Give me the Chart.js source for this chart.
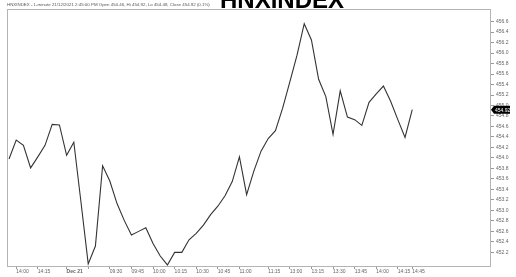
<!DOCTYPE html>
<html>
<head>
<meta charset="utf-8">
<script src="https://cdn.jsdelivr.net/npm/chart.js@4/dist/chart.umd.min.js"></script>
<style>
  html, body { margin: 0; padding: 0; background: #fff; }
  #wrap { width: 516px; height: 277px; }
</style>
</head>
<body>
<div id="wrap"><canvas id="hnxChart"></canvas></div>
<script>
const chartTitle = 'HNXINDEX';
const headerText = 'HNXINDEX - 1-minute 21/12/2021 2:45:00 PM Open 454.46, Hi 454.92, Lo 454.48, Close 454.92 (0.1%)';

// closing prices, one per bar
const prices = [
  453.98, 454.34, 454.24, 453.81, 454.02, 454.24, 454.64, 454.63, 454.05, 454.30,
  453.15, 451.98, 452.32, 453.85, 453.56, 453.13, 452.81, 452.53, 452.60, 452.67,
  452.37, 452.13, 451.96, 452.20, 452.20, 452.44, 452.56, 452.72, 452.92, 453.08,
  453.28, 453.55, 454.02, 453.30, 453.75, 454.13, 454.37, 454.52, 454.95, 455.45,
  455.96, 456.56, 456.25, 455.50, 455.17, 454.45, 455.28, 454.78, 454.73, 454.62,
  455.06, 455.22, 455.37, 455.08, 454.73, 454.39, 454.92
];

// x-axis labels and the bar they sit on
const tickLabels = ['14:00', '14:15', 'Dec 21', '', '09:30', '09:45', '10:00', '10:15', '10:30',
  '10:45', '11:00', '11:15', '13:00', '13:15', '13:30', '13:45', '14:00', '14:15', '14:45'];
const tickBars = [1, 4, 8, 11, 14, 17, 20, 23, 26, 29, 32, 36, 39, 42, 45, 48, 51, 54, 56];

const yTicks = [452.2, 452.4, 452.6, 452.8, 453.0, 453.2, 453.4, 453.6, 453.8, 454.0, 454.2,
  454.4, 454.6, 454.8, 455.0, 455.2, 455.4, 455.6, 455.8, 456.0, 456.2, 456.4, 456.6];

const lastPrice = prices[prices.length - 1];

const frame = {
  id: 'frame',
  beforeDatasetsDraw(chart) {
    const { ctx, chartArea: a } = chart;
    ctx.save();
    ctx.strokeStyle = '#b4b4b4';
    ctx.lineWidth = 1;
    ctx.strokeRect(a.left + 0.5, a.top + 0.5, a.right - a.left, a.bottom - a.top);
    ctx.restore();
  },
  afterDraw(chart) {
    const { ctx, chartArea: a } = chart;
    ctx.save();
    // header line
    ctx.fillStyle = '#555';
    ctx.font = '4.4px "Liberation Sans", Arial, sans-serif';
    ctx.textBaseline = 'alphabetic';
    ctx.textAlign = 'left';
    ctx.fillText(headerText, 7, 6);
    // big title, cut at the top
    ctx.fillStyle = '#000';
    ctx.font = 'bold 24px "Liberation Sans", Arial, sans-serif';
    ctx.textAlign = 'center';
    ctx.fillText(chartTitle, 282, 8);
    // last price marker
    const y = chart.scales.y.getPixelForValue(lastPrice);
    const x0 = a.right + 1;
    ctx.fillStyle = '#000';
    ctx.beginPath();
    ctx.moveTo(x0, y);
    ctx.lineTo(x0 + 3, y - 4);
    ctx.lineTo(x0 + 19, y - 4);
    ctx.lineTo(x0 + 19, y + 4);
    ctx.lineTo(x0 + 3, y + 4);
    ctx.closePath();
    ctx.fill();
    ctx.fillStyle = '#fff';
    ctx.font = '5px "Liberation Sans", Arial, sans-serif';
    ctx.textAlign = 'left';
    ctx.textBaseline = 'middle';
    ctx.fillText(lastPrice.toFixed(2), x0 + 4, y + 0.5);
    ctx.restore();
  }
};

new Chart(document.getElementById('hnxChart'), {
  type: 'line',
  data: {
    datasets: [{
      data: prices.map((p, i) => ({ x: i, y: p })),
      borderColor: '#333',
      borderWidth: 1.1,
      pointRadius: 0,
      tension: 0,
      fill: false
    }]
  },
  options: {
    responsive: true,
    maintainAspectRatio: false,
    animation: false,
    layout: { padding: { left: 7, top: 9, right: 0, bottom: 0 } },
    plugins: {
      legend: { display: false },
      tooltip: { enabled: false }
    },
    scales: {
      x: {
        type: 'linear',
        min: -0.28,
        max: 66.8,
        afterBuildTicks: axis => { axis.ticks = tickBars.map(v => ({ value: v })); },
        afterFit: axis => { axis.height = 11; },
        border: { display: false },
        grid: { drawOnChartArea: false, tickLength: 3, color: '#999' },
        ticks: {
          autoSkip: false,
          maxRotation: 0,
          align: 'start',
          padding: 0,
          color: '#666',
          font: ctx => ({
            size: 5,
            family: '"Liberation Sans", Arial, sans-serif',
            weight: ctx.tick && ctx.tick.label === 'Dec 21' ? 'bold' : 'normal'
          }),
          callback: (v) => tickLabels[tickBars.indexOf(v)]
        }
      },
      y: {
        position: 'right',
        min: 451.94,
        max: 456.84,
        afterBuildTicks: axis => { axis.ticks = yTicks.map(v => ({ value: v })); },
        afterFit: axis => { axis.width = 26; },
        border: { display: false },
        grid: { drawOnChartArea: false, tickLength: 4, color: '#999' },
        ticks: {
          padding: 2,
          color: '#666',
          font: { size: 5, family: '"Liberation Sans", Arial, sans-serif' },
          callback: v => v.toFixed(1)
        }
      }
    }
  },
  plugins: [frame]
});
</script>
</body>
</html>
